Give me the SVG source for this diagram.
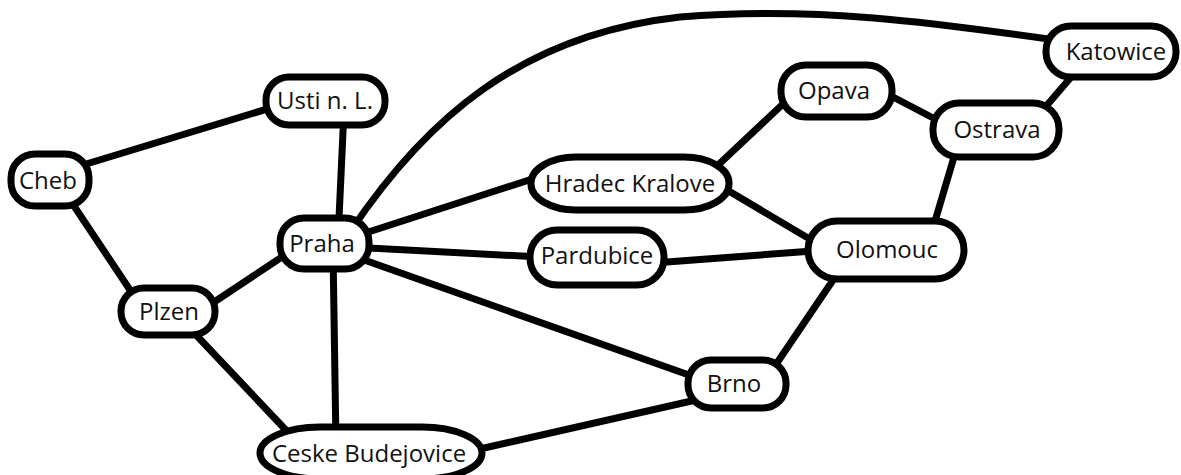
<svg xmlns="http://www.w3.org/2000/svg" width="1181" height="475" viewBox="0 0 1181 475">
<style>
.e{stroke:#000;stroke-width:7;fill:none;stroke-linecap:round}
.n rect{fill:#fff;stroke:#000;stroke-width:7}
.n text{font-family:"Open Sans","Noto Sans",sans-serif;font-size:24px;fill:#111;text-anchor:middle}
</style>
<rect width="1181" height="475" fill="#fff"/>
<g id="edges">
<line class="e" x1="60" y1="172" x2="300" y2="99"/>
<line class="e" x1="60" y1="185" x2="150" y2="320"/>
<line class="e" x1="344" y1="110" x2="338" y2="240"/>
<line class="e" x1="190" y1="318" x2="300" y2="245"/>
<line class="e" x1="180" y1="318" x2="300" y2="445"/>
<line class="e" x1="333" y1="250" x2="336" y2="445"/>
<line class="e" x1="350" y1="238" x2="560" y2="170"/>
<line class="e" x1="350" y1="247" x2="560" y2="258"/>
<line class="e" x1="350" y1="255" x2="720" y2="386"/>
<path class="e" d="M350,232 C425,120 520,35 680,17 C820,5 950,25 1070,42"/>
<line class="e" x1="700" y1="182" x2="800" y2="88"/>
<line class="e" x1="700" y1="174" x2="840" y2="257"/>
<line class="e" x1="640" y1="264" x2="840" y2="249"/>
<line class="e" x1="870" y1="85" x2="960" y2="132"/>
<line class="e" x1="1030" y1="125" x2="1090" y2="55"/>
<line class="e" x1="962" y1="130" x2="925" y2="255"/>
<line class="e" x1="850" y1="255" x2="760" y2="388"/>
<line class="e" x1="740" y1="390" x2="440" y2="458"/>
</g>
<g id="cheb" class="n"><rect x="11" y="154" width="78" height="52" rx="24"/><text x="48" y="189">Cheb</text></g>
<g id="usti" class="n"><rect x="266" y="77" width="119" height="48" rx="23"/><text x="325" y="109">Usti n. L.</text></g>
<g id="praha" class="n"><rect x="280" y="218" width="89" height="51" rx="24"/><text x="322" y="252">Praha</text></g>
<g id="plzen" class="n"><rect x="121" y="288" width="94" height="47" rx="23"/><text x="169" y="320">Plzen</text></g>
<g id="hradec" class="n"><rect x="531" y="157" width="198" height="53" rx="45" ry="26"/><text x="630" y="192">Hradec Kralove</text></g>
<g id="pardubice" class="n"><rect x="530" y="230" width="134" height="55" rx="27"/><text x="597" y="264">Pardubice</text></g>
<g id="opava" class="n"><rect x="781" y="65" width="111" height="52" rx="25"/><text x="834" y="99">Opava</text></g>
<g id="olomouc" class="n"><rect x="808" y="221" width="156" height="58" rx="29"/><text x="887" y="258">Olomouc</text></g>
<g id="ostrava" class="n"><rect x="933" y="103" width="126" height="54" rx="26"/><text x="997" y="138">Ostrava</text></g>
<g id="katowice" class="n"><rect x="1046" y="26" width="130" height="51" rx="25"/><text x="1116" y="60">Katowice</text></g>
<g id="brno" class="n"><rect x="688" y="360" width="98" height="48" rx="23"/><text x="734" y="392">Brno</text></g>
<g id="ceske" class="n"><rect x="260" y="427" width="222" height="52" rx="60" ry="26"/><text x="369" y="462">Ceske Budejovice</text></g>
</svg>
